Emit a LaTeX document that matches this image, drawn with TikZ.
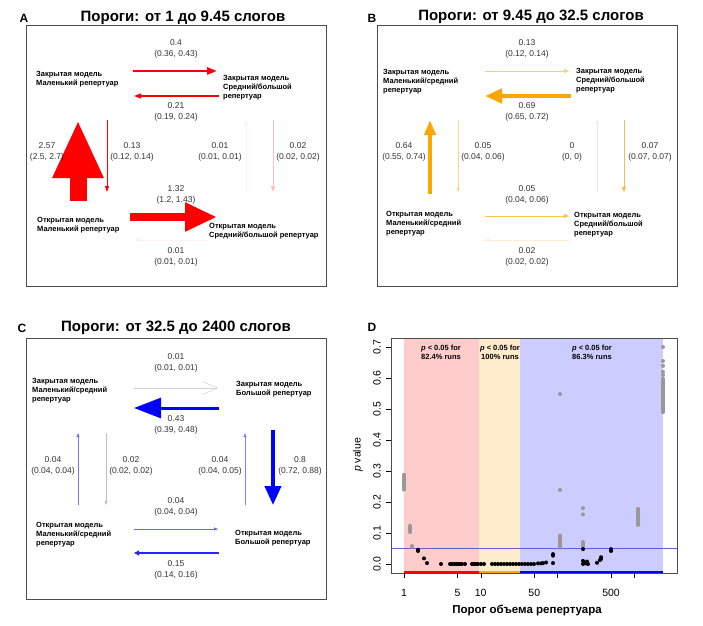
\documentclass[tikz,border=0pt]{standalone}
\usepackage{fontspec}
\setmainfont{Liberation Sans}
\usetikzlibrary{arrows.meta}
\tikzset{every picture/.style={
  >={Triangle}                  % R style filled heads.
  }
}
\definecolor{rred}{RGB}{255,0,0}
\definecolor{rorange}{RGB}{255,165,0}
\definecolor{rblue}{RGB}{0,0,255}
\definecolor{shR}{RGB}{255,204,204}
\definecolor{shO}{RGB}{255,236,204}
\definecolor{shB}{RGB}{204,204,255}
\definecolor{cutline}{RGB}{95,95,225}
\definecolor{ghost}{RGB}{205,205,220}

\begin{document}
\begin{tikzpicture}[x=1pt, y=-1pt,
        state/.style={
          anchor=west,
          align=left,
          inner sep=0pt,
          font=\fontsize{7.5}{9}\selectfont\bfseries
        },
        rate/.style={
          align=center,
          inner sep=0pt,
          text=black!80,
          font=\fontsize{8.5}{11}\selectfont
        },
        title/.style={font=\fontsize{15}{17}\selectfont\bfseries},
        tag/.style={font=\fontsize{12}{14}\selectfont\bfseries},
        frame/.style={draw=black!70, line width=0.9pt},
        flow/.style n args={4}{
          draw=#1,
          line width=#2,
          -{Triangle[width=#3,length=#4]}
        },
        tick/.style={font=\fontsize{10.5}{12}\selectfont, inner sep=0pt},
        note/.style={align=center, inner sep=0pt,
          font=\fontsize{7.5}{9}\selectfont\bfseries}]

        \fill[white] (0,0) rectangle (703,625);
        \useasboundingbox (0,0) rectangle (703,625);

        % Helper macros.
        \def\flow#1#2#3#4{%
          \coordinate (#1-s) at #2; \coordinate (#1-e) at #3;
          \draw[#4] (#1-s) -- (#1-e);}
        \def\rate#1#2#3#4{\node[rate] (#1) at #2 {#3\\#4};}

        % Panel A.
        \node[tag] (atag) at (24,18) {A};
        \node[title] (atitle) at (183,18) {Пороги: от 1 до 9.45 слогов};
        \begin{scope}[shift={(26,25)}]
          \draw[frame] (0,0) rectangle (300,261);
          \node[state] (aCS) at (10,54.5) {Закрытая модель\\Маленький репертуар};
          \node[state] (aCM) at (197,63) {Закрытая модель\\Средний/большой\\репертуар};
          \node[state] (aOS) at (11,200.5) {Открытая модель\\Маленький репертуар};
          \node[state] (aOM) at (183,206.5) {Открытая модель\\Средний/большой репертуар};
          \flow{a1}{(107,46)}{(191,46)}{flow={rred}{2.5pt}{7pt}{10pt}}
          \flow{a2}{(193,71)}{(108,71)}{flow={rred}{1.2pt}{5pt}{7pt}}
          \flow{a3}{(52,176)}{(52,95)}{flow={rred}{17pt}{47pt}{58pt}}
          \flow{a4}{(81,95)}{(81,167)}{flow={rred}{0.8pt}{4pt}{6pt}}
          \flow{a5}{(220,167)}{(220,95)}{flow={rred!6}{0.8pt}{4pt}{6pt}}
          \flow{a6}{(247,95)}{(247,167)}{flow={rred!25}{0.8pt}{4pt}{6pt}}
          \flow{a7}{(104,192)}{(191,192)}{flow={rred}{8pt}{27pt}{32pt}}
          \flow{a8}{(182,215)}{(108,215)}{flow={rred!6}{0.8pt}{4pt}{6pt}}
          \rate{ar1}{(150,23.5)}{0.4}{(0.36, 0.43)}
          \rate{ar2}{(150,87)}{0.21}{(0.19, 0.24)}
          \rate{ar3}{(21,126.5)}{2.57}{(2.5, 2.7)}
          \rate{ar4}{(106,126.5)}{0.13}{(0.12, 0.14)}
          \rate{ar5}{(194,126.5)}{0.01}{(0.01, 0.01)}
          \rate{ar6}{(272,126.5)}{0.02}{(0.02, 0.02)}
          \rate{ar7}{(150,169.5)}{1.32}{(1.2, 1.43)}
          \rate{ar8}{(150,232)}{0.01}{(0.01, 0.01)}
        \end{scope}

        % Panel B.
        \node[tag] (btag) at (372,18) {B};
        \node[title] (btitle) at (531,17) {Пороги: от 9.45 до 32.5 слогов};
        \begin{scope}[shift={(377,25)}]
          \draw[frame] (0,0) rectangle (300,261);
          \node[state] (bCS) at (6,57) {Закрытая модель\\Маленький/средний\\репертуар};
          \node[state] (bCM) at (199,56) {Закрытая модель\\Средний/большой\\репертуар};
          \node[state] (bOS) at (9,199) {Открытая модель\\Маленький/средний\\репертуар};
          \node[state] (bOM) at (197,200) {Открытая модель\\Средний/большой\\репертуар};
          \flow{b1}{(108,46)}{(192,46)}{flow={rorange!55}{0.8pt}{4pt}{5pt}}
          \flow{b2}{(194,71)}{(108,71)}{flow={rorange}{4.5pt}{14pt}{17pt}}
          \flow{b3}{(53,169)}{(53,95)}{flow={rorange}{4pt}{11pt}{15pt}}
          \flow{b4}{(81,95)}{(81,167)}{flow={rorange!50}{0.7pt}{3pt}{4pt}}
          \flow{b5}{(220,167)}{(220,95)}{flow={black!8}{0.6pt}{3pt}{4pt}}
          \flow{b6}{(247,95)}{(247,167)}{flow={rorange!75}{0.8pt}{4pt}{5pt}}
          \flow{b7}{(108,191)}{(192,191)}{flow={rorange!70}{0.8pt}{4pt}{5pt}}
          \flow{b8}{(192,215)}{(108,215)}{flow={rorange!20}{0.7pt}{3pt}{4pt}}
          \rate{br1}{(150,23.5)}{0.13}{(0.12, 0.14)}
          \rate{br2}{(150,87)}{0.69}{(0.65, 0.72)}
          \rate{br3}{(27,126.5)}{0.64}{(0.55, 0.74)}
          \rate{br4}{(106,126.5)}{0.05}{(0.04, 0.06)}
          \rate{br5}{(195,126.5)}{0}{(0, 0)}
          \rate{br6}{(273,126.5)}{0.07}{(0.07, 0.07)}
          \rate{br7}{(150,169.5)}{0.05}{(0.04, 0.06)}
          \rate{br8}{(150,232)}{0.02}{(0.02, 0.02)}
        \end{scope}

        % Panel C.
        \node[tag] (ctag) at (22,328) {C};
        \node[title] (ctitle) at (176,328) {Пороги: от 32.5 до 2400 слогов};
        \begin{scope}[shift={(26,338)}]
          \draw[frame] (0,0) rectangle (300,261);
          \node[state] (cCS) at (6,53) {Закрытая модель\\Маленький/средний\\репертуар};
          \node[state] (cCL) at (210,51.5) {Закрытая модель\\Большой репертуар};
          \node[state] (cOS) at (10,197) {Открытая модель\\Маленький/средний\\репертуар};
          \node[state] (cOL) at (209,200) {Открытая модель\\Большой репертуар};
          \flow{c1}{(108,50)}{(192,50)}{draw=ghost, line width=0.5pt,
            -{Straight Barb[width=13pt,length=15pt]}}
          \flow{c2}{(193,70)}{(108,70)}{flow={rblue}{3pt}{20pt}{27pt}}
          \flow{c3}{(52,167)}{(52,95)}{flow={rblue!55}{0.8pt}{3pt}{4pt}}
          \flow{c4}{(80,95)}{(80,167)}{flow={black!25}{0.6pt}{3pt}{4pt}}
          \flow{c5}{(219,167)}{(219,95)}{flow={rblue!50}{0.8pt}{3pt}{4pt}}
          \flow{c6}{(247,92)}{(247,167)}{flow={rblue}{4pt}{16pt}{19pt}}
          \flow{c7}{(108,191)}{(192,191)}{flow={rblue!60}{0.8pt}{3pt}{4pt}}
          \flow{c8}{(193,215)}{(108,215)}{flow={rblue!85}{1.2pt}{5pt}{5pt}}
          \rate{cr1}{(150,24.5)}{0.01}{(0.01, 0.01)}
          \rate{cr2}{(150,86.5)}{0.43}{(0.39, 0.48)}
          \rate{cr3}{(27,127.5)}{0.04}{(0.04, 0.04)}
          \rate{cr4}{(105,127.5)}{0.02}{(0.02, 0.02)}
          \rate{cr5}{(194,127.5)}{0.04}{(0.04, 0.05)}
          \rate{cr6}{(274,127.5)}{0.8}{(0.72, 0.88)}
          \rate{cr7}{(150,169)}{0.04}{(0.04, 0.04)}
          \rate{cr8}{(150,231.5)}{0.15}{(0.14, 0.16)}
        \end{scope}

        % Panel D: p values against threshold.
        \node[tag] (dtag) at (372,327) {D};
        \fill[shR] (404,338) rectangle (478.8,573);
        \fill[shO] (478.8,338) rectangle (520,573);
        \fill[shB] (520,338) rectangle (663.3,573);
        \node[note] (dnR) at (441,352.5) {\textit{p} < 0.05 for\\82.4\% runs};
        \node[note] (dnO) at (500,352.5) {\textit{p} < 0.05 for\\100\% runs};
        \node[note] (dnB) at (592,352.5) {\textit{p} < 0.05 for\\86.3\% runs};
        \draw[line width=1.6pt, red] (404,572) -- (478.8,572);
        \draw[line width=1.6pt, rorange] (478.8,572) -- (520,572);
        \draw[line width=1.6pt, rblue] (520,572) -- (663.3,572);
        \begin{scope}[shift={(0,564)}, y=310pt]
          \draw[cutline, line width=0.9pt] (391,0.05) -- (677,0.05);
          % Grey runs.
          \foreach \p in {0.24,0.244,...,0.29} \fill[black!40] (404,\p) circle (2pt);
          \foreach \p in {0.103,0.107,...,0.126} \fill[black!40] (410,\p) circle (2pt);
          \foreach \p in {0.055,0.058} \fill[black!40] (412,\p) circle (2pt);
          \foreach \p in {0.052,0.056,...,0.094,0.239,0.548} \fill[black!40] (560,\p) circle (2pt);
          \foreach \p in {0.055,0.059,...,0.072,0.16,0.18} \fill[black!40] (583,\p) circle (2pt);
          \foreach \p in {0.126,0.13,...,0.18} \fill[black!40] (638,\p) circle (2pt);
          \foreach \p in {0.49,0.494,...,0.6,0.61,0.62,0.639,0.655,0.70} \fill[black!40] (663,\p) circle (2pt);
          % Black runs.
          \foreach \x/\p in {418/0.042,418/0.046,424/0.018,427/0.003,441/0,
              450/0,452/0,454/0,456/0,458/0,460/0,462/0,465/0,
              472/0,474/0,476/0,478/0,481/0,484/0,
              538/0.002,541/0.002,543/0.003,546/0.005,
              553/0.032,553/0.027,553/0.003,
              583/0.048,583/0.01,584/0.005,586/0.002,583/0,587/0.008,588/0,
              597/0.004,601/0.022,601/0.016,600/0.013,611/0.048,611/0.042}
            \fill (\x,\p) circle (2pt);
          \foreach \x in {492,495,...,536} \fill (\x,0) circle (2pt);
          % Axes.
          \foreach \p [count=\i] in {0.0,0.1,0.2,0.3,0.4,0.5,0.6,0.7} {
            \draw (386,\p) -- (391,\p);
            \node[tick, rotate=90] (yl\i) at (377,\p) {\p};
          }
        \end{scope}
        \draw[frame] (391,338) rectangle (677,573);
        \foreach \v in {1,5,10,50,100,500,1000}
          \draw ({404+76.7*log10(\v)},573) -- ++(0,5);
        \foreach \v [count=\i] in {1,5,10,50,500}
          \node[tick] (xl\i) at ({404+76.7*log10(\v)},593) {\v};
        \node[font=\fontsize{11.5}{13}\selectfont\bfseries] (xlab) at (527,610)
          {Порог объема репертуара};
        \node[tick, rotate=90] (ylab) at (358,455) {\textit{p} value};
      \end{tikzpicture}
\end{document}
